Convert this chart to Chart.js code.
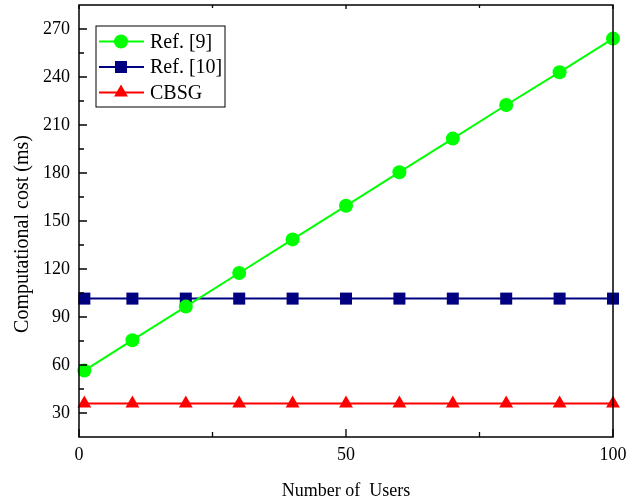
<!DOCTYPE html>
<html>
<head>
<meta charset="utf-8">
<script src="https://cdn.jsdelivr.net/npm/chart.js@4.4.0/dist/chart.umd.min.js"></script>
<style>
html, body { margin: 0; padding: 0; background: #fff; }
#wrap { width: 644px; height: 498px; }
</style>
</head>
<body>
<div id="wrap"><canvas id="cost"></canvas></div>
<script>
// values
var users = [1, 10, 20, 30, 40, 50, 60, 70, 80, 90, 100];
var ref9  = [56.5, 75.5, 96.5, 117.5, 138.5, 159.5, 180.5, 201.5, 222.5, 243, 264];
var ref10 = [101.5, 101.5, 101.5, 101.5, 101.5, 101.5, 101.5, 101.5, 101.5, 101.5, 101.5];
var cbsg  = [36, 36, 36, 36, 36, 36, 36, 36, 36, 36, 36];

var seriesNames = ['Ref. [9]', 'Ref. [10]', 'CBSG'];

// axis ticks
var xTicks = [0, 50, 100];
var xMinor = [25, 75];
var yTicks = [30, 60, 90, 120, 150, 180, 210, 240, 270];
var yMinor = [45, 75, 105, 135, 165, 195, 225, 255];

var serif = "'Liberation Serif', 'Times New Roman', serif";

function pairs(ys) {
    return users.map(function(u, i) { return { x: u, y: ys[i] }; });
}

// 畫外框、朝內的刻度和 y 軸標題
var framePlugin = {
    id: 'frame',
    afterDatasetsDraw: function(chart) {
        var ctx = chart.ctx;
        var a = chart.chartArea;
        var xs = chart.scales.x, ys = chart.scales.y;
        ctx.save();
        ctx.strokeStyle = '#000';
        ctx.lineWidth = 1.5;
        ctx.strokeRect(a.left, a.top, a.right - a.left, a.bottom - a.top);
        ctx.lineWidth = 1.3;
        ctx.beginPath();
        yTicks.forEach(function(v) {
            var p = ys.getPixelForValue(v);
            ctx.moveTo(a.left, p); ctx.lineTo(a.left + 8, p);
        });
        yMinor.forEach(function(v) {
            var p = ys.getPixelForValue(v);
            ctx.moveTo(a.left, p); ctx.lineTo(a.left + 5, p);
        });
        xTicks.forEach(function(v) {
            var p = xs.getPixelForValue(v);
            ctx.moveTo(p, a.bottom); ctx.lineTo(p, a.bottom - 8);
            ctx.moveTo(p, a.top); ctx.lineTo(p, a.top + 4);
        });
        xMinor.forEach(function(v) {
            var p = xs.getPixelForValue(v);
            ctx.moveTo(p, a.bottom); ctx.lineTo(p, a.bottom - 5);
            ctx.moveTo(p, a.top); ctx.lineTo(p, a.top + 3);
        });
        ctx.stroke();

        // y 軸標題 (原圖稍微偏下)
        ctx.translate(23, 234);
        ctx.rotate(-Math.PI / 2);
        ctx.fillStyle = '#000';
        ctx.font = '20px ' + serif;
        ctx.textAlign = 'center';
        ctx.textBaseline = 'middle';
        ctx.fillText('Computational cost (ms)', 0, 0);
        ctx.restore();
    }
};

// 左上角的圖例（有框）
var boxLegend = {
    id: 'boxLegend',
    afterDraw: function(chart) {
        var ctx = chart.ctx;
        var a = chart.chartArea;
        var bx = a.left + 17, by = a.top + 21, bw = 129, bh = 81;
        ctx.save();
        ctx.fillStyle = '#fff';
        ctx.fillRect(bx, by, bw, bh);
        ctx.strokeStyle = '#000';
        ctx.lineWidth = 1;
        ctx.strokeRect(bx, by, bw, bh);
        chart.data.datasets.forEach(function(ds, i) {
            var cy = by + 15.5 + i * 25.5;
            ctx.strokeStyle = ds.borderColor;
            ctx.lineWidth = ds.borderWidth;
            ctx.beginPath();
            ctx.moveTo(bx + 3, cy); ctx.lineTo(bx + 48, cy);
            ctx.stroke();
            ctx.fillStyle = ds.pointBackgroundColor;
            ctx.strokeStyle = ds.pointBackgroundColor;
            Chart.helpers.drawPoint(ctx, {
                pointStyle: ds.pointStyle, radius: ds.pointRadius, borderWidth: 0, rotation: 0
            }, bx + 25, cy);
            ctx.fillStyle = '#000';
            ctx.font = '20px ' + serif;
            ctx.textBaseline = 'middle';
            ctx.fillText(seriesNames[i], bx + 54, cy + 1);
        });
        ctx.restore();
    }
};

var ctx = document.getElementById('cost').getContext('2d');
var costChart = new Chart(ctx, {
    type: 'line',
    data: {
        datasets: [
            {
                label: seriesNames[0],
                data: pairs(ref9),
                borderColor: '#00ff00',
                backgroundColor: '#00ff00',
                pointBackgroundColor: '#00ff00',
                borderWidth: 2,
                pointStyle: 'circle',
                pointRadius: 7,
                pointBorderWidth: 0,
                clip: false
            },
            {
                label: seriesNames[1],
                data: pairs(ref10),
                borderColor: '#000080',
                backgroundColor: '#000080',
                pointBackgroundColor: '#000080',
                borderWidth: 2,
                pointStyle: 'rect',
                pointRadius: 8.5,
                pointBorderWidth: 0,
                clip: false
            },
            {
                label: seriesNames[2],
                data: pairs(cbsg),
                borderColor: '#ff0000',
                backgroundColor: '#ff0000',
                pointBackgroundColor: '#ff0000',
                borderWidth: 2,
                pointStyle: 'triangle',
                pointRadius: 8,
                pointBorderWidth: 0,
                clip: false
            }
        ]
    },
    options: {
        responsive: true,
        maintainAspectRatio: false,
        animation: false,
        layout: { autoPadding: false, padding: { top: 5, right: 31, left: 0, bottom: 0 } },
        plugins: {
            legend: { display: false },
            tooltip: { enabled: false }
        },
        scales: {
            x: {
                type: 'linear',
                min: 0,
                max: 100,
                grid: { display: false, drawTicks: false },
                border: { display: false },
                afterBuildTicks: function(s) { s.ticks = xTicks.map(function(v) { return { value: v }; }); },
                afterFit: function(s) { s.height = 61; s.paddingLeft = 0; s.paddingRight = 0; },
                ticks: { color: '#000', padding: 7, maxRotation: 0, font: { family: serif, size: 18 } },
                title: {
                    display: true,
                    text: 'Number of  Users',
                    color: '#000',
                    font: { family: serif, size: 18, lineHeight: 1 },
                    padding: { top: 0, bottom: -2 }
                }
            },
            y: {
                type: 'linear',
                min: 15,
                max: 285,
                grid: { display: false, drawTicks: false },
                border: { display: false },
                afterBuildTicks: function(s) { s.ticks = yTicks.map(function(v) { return { value: v }; }); },
                afterFit: function(s) { s.width = 79; s.paddingTop = 0; s.paddingBottom = 0; },
                ticks: { color: '#000', padding: 9, font: { family: serif, size: 18 } }
            }
        }
    },
    plugins: [framePlugin, boxLegend]
});
</script>
</body>
</html>
